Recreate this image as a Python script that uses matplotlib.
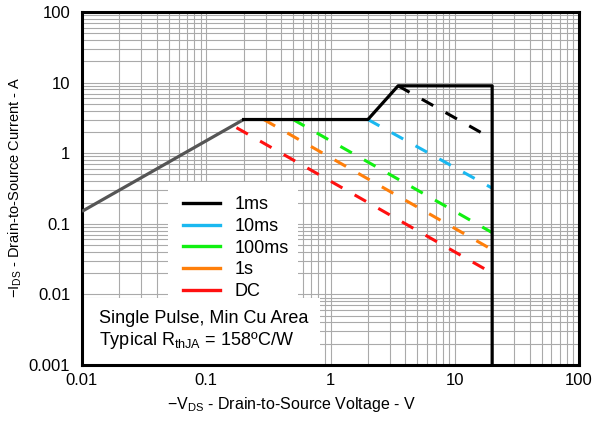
import numpy as np
import matplotlib.pyplot as plt
from matplotlib.lines import Line2D
from matplotlib.patches import Rectangle
from matplotlib.ticker import LogLocator, FixedLocator, FixedFormatter, NullFormatter

plt.rcParams['font.family'] = ['Liberation Sans', 'DejaVu Sans']
plt.rcParams['mathtext.fontset'] = 'custom'
plt.rcParams['mathtext.rm'] = 'Liberation Sans'
plt.rcParams['mathtext.it'] = 'Liberation Sans'

# Rds(on) limited region (gray)
rds_v = [0.01, 0.2]
rds_i = [0.15, 3.0]

# outer 1ms boundary (solid black)
limit_v = [0.2, 2.0, 3.5, 20.0, 20.0]
limit_i = [3.0, 3.0, 9.0, 9.0, 0.001]

# power limited dashed segments, from start point down to 20 V
pulse_labels = ['1ms', '10ms', '100ms', '1s', 'DC']
pulse_colors = ['#000000', '#1ab8f0', '#11f011', '#ff7f0a', '#ff1010']
pulse_v_start = [3.5, 2.0, 0.5, 0.29, 0.175]
pulse_i_start = [9.0, 3.0, 3.0, 3.0, 2.3]
pulse_v_end = [20.0, 20.0, 20.0, 20.0, 20.0]
pulse_i_end = [1.6, 0.32, 0.075, 0.043, 0.02]

x_ticks = [0.01, 0.1, 1, 10, 100]
x_tick_labels = ['0.01', '0.1', '1', '10', '100']
y_ticks = [0.001, 0.01, 0.1, 1, 10, 100]
y_tick_labels = ['0.001', '0.01', '0.1', '1', '10', '100']

fig = plt.figure(figsize=(5.95, 4.26), dpi=100)
ax = fig.add_axes([82 / 595, 1 - 365 / 426, 497 / 595, 353 / 426])
ax.set_xscale('log')
ax.set_yscale('log')
ax.set_xlim(0.01, 100)
ax.set_ylim(0.001, 100)

# grid
ax.xaxis.set_major_locator(FixedLocator(x_ticks))
ax.xaxis.set_major_formatter(FixedFormatter(x_tick_labels))
ax.yaxis.set_major_locator(FixedLocator(y_ticks))
ax.yaxis.set_major_formatter(FixedFormatter(y_tick_labels))
ax.xaxis.set_minor_locator(LogLocator(base=10, subs=np.arange(2, 10), numticks=20))
ax.yaxis.set_minor_locator(LogLocator(base=10, subs=np.arange(2, 10), numticks=20))
ax.xaxis.set_minor_formatter(NullFormatter())
ax.yaxis.set_minor_formatter(NullFormatter())
ax.grid(which='both', color='#aaaaaa', linewidth=0.8, zorder=0)
ax.set_axisbelow(True)
ax.tick_params(which='both', length=0, labelsize=12, colors='black')
ax.tick_params(axis='x', pad=6)
ax.tick_params(axis='y', pad=8.5)
for sp in ax.spines.values():
    sp.set_linewidth(2.2)
    sp.set_color('black')

# curves
ax.plot(rds_v, rds_i, color='#555555', lw=2.3, zorder=3, solid_capstyle='butt')
ax.plot(limit_v, limit_i, color='black', lw=2.3, zorder=4, clip_on=False)
for vs, is_, ve, ie, c in zip(pulse_v_start, pulse_i_start, pulse_v_end, pulse_i_end, pulse_colors):
    ax.plot([vs, ve], [is_, ie], color=c, lw=2.2, linestyle=(0, (4.3, 4.6)), zorder=3)

# white boxes: note box in the corner and legend box above it
ax.add_patch(Rectangle((0, 0), 0.479, 0.19, transform=ax.transAxes,
                       facecolor='white', edgecolor='none', zorder=2))
ax.add_patch(Rectangle((0.173, 0.19), 0.262, 0.328, transform=ax.transAxes,
                       facecolor='white', edgecolor='none', zorder=2))
ax.text(0.034, 0.131, 'Single Pulse, Min Cu Area', transform=ax.transAxes,
        fontsize=13, va='center', ha='left', zorder=5)
ax.text(0.034, 0.068, r'Typical R$_{\mathrm{thJA}}$ = 158ºC/W', transform=ax.transAxes,
        fontsize=13, va='center', ha='left', zorder=5)

# legend
handles = [Line2D([0], [0], color=c, lw=2.4) for c in pulse_colors]
leg = ax.legend(handles, pulse_labels, loc='upper left', bbox_to_anchor=(0.203, 0.478),
                borderaxespad=0, frameon=False, fontsize=13,
                handlelength=2.05, handletextpad=0.83, labelspacing=0.26, borderpad=0)
leg.set_zorder(5)

fig.text(291 / 595, 1 - 405 / 426, r'$-$V$_{\mathrm{DS}}$ - Drain-to-Source Voltage - V',
         ha='center', va='center', fontsize=11.5)
fig.text(15 / 595, 1 - 187 / 426, r'$-$I$_{\mathrm{DS}}$ - Drain-to-Source Current - A',
         ha='center', va='center', rotation=90, fontsize=10.5)

fig.savefig('out.png', dpi=100)
